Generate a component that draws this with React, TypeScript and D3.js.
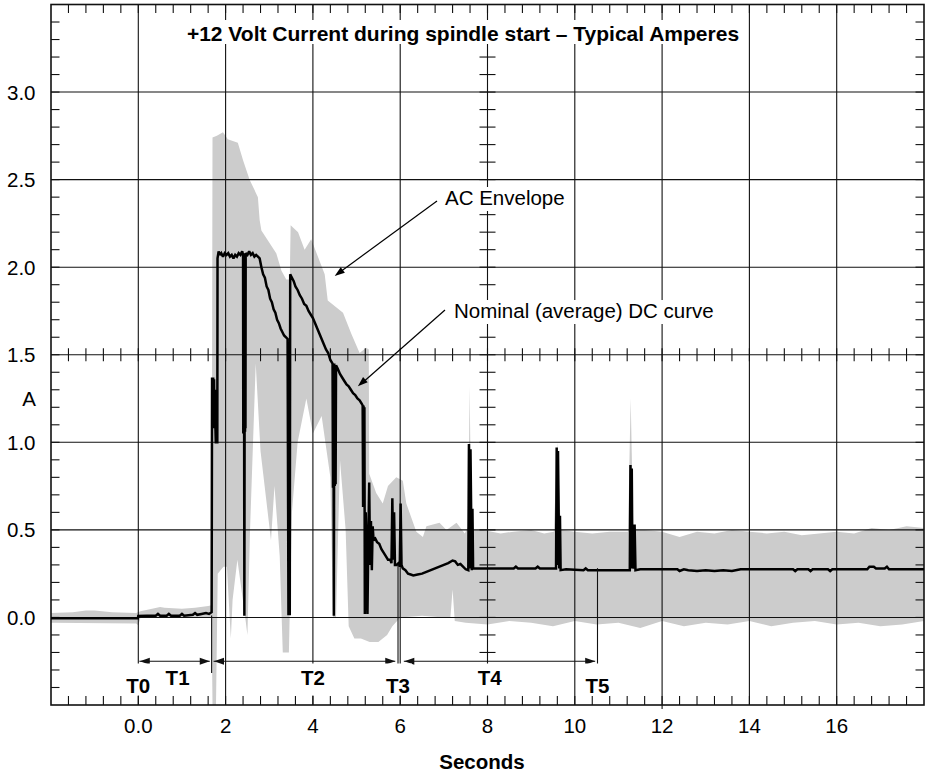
import React from 'react';
import * as d3 from 'd3';

const W = 926;
const H = 774;

// ---- Data ----
const dcT = [-2.0,-0.01,0.0,0.2,0.4,0.45,0.5,0.65,0.7,0.75,0.95,1.0,1.05,1.25,1.3,1.35,1.45,1.55,1.62,1.68,
1.69,1.705,1.715,1.725,1.735,1.745,1.755,1.765,1.775,1.81,1.815,1.84,1.87,1.9,1.94,1.98,2.02,2.06,2.1,2.14,2.18,2.22,2.26,2.3,2.34,2.38,2.40,
2.405,2.41,2.415,2.42,2.43,2.44,2.445,2.45,2.455,2.46,2.5,2.54,2.58,2.62,2.66,2.7,2.74,2.78,2.82,2.86,2.9,2.94,2.98,3.02,3.06,3.1,3.14,3.18,3.22,3.26,3.3,3.34,3.38,3.42,
3.44,3.47,3.48,3.52,3.56,3.6,3.65,3.7,3.75,3.8,3.85,3.9,3.95,4.0,4.05,4.1,4.15,4.2,4.25,4.3,4.35,4.4,4.45,
4.46,4.47,4.48,4.49,4.5,4.51,4.52,4.53,4.57,4.62,4.67,4.72,4.77,4.82,4.87,4.92,4.97,5.02,5.07,5.12,5.14,
5.15,5.16,5.17,5.18,5.19,5.21,5.23,5.25,5.27,5.29,5.31,5.33,5.35,5.37,5.39,5.43,5.47,5.52,5.57,5.62,5.67,5.72,5.77,5.80,
5.82,5.84,5.86,5.88,5.92,5.96,5.99,6.01,6.03,6.06,6.12,6.18,6.24,6.3,6.4,6.5,6.6,6.7,6.8,6.9,7.0,7.1,7.2,7.26,7.32,7.38,7.44,7.5,7.56,
7.575,7.595,7.61,7.625,7.64,7.655,7.67,7.7,8.6,8.65,8.7,9.1,9.15,9.2,9.57,9.585,9.6,9.615,9.63,9.645,9.66,9.675,9.8,10.2,10.25,10.3,10.7,
11.26,11.275,11.29,11.305,11.32,11.35,11.37,11.39,11.5,12.35,12.4,12.5,12.6,12.8,13.0,13.2,13.4,13.6,13.8,15.0,15.05,15.1,15.35,15.4,15.45,15.8,15.85,15.9,
16.7,16.75,16.85,16.9,17.1,17.15,17.2,18.0];
const dcA = [-0.005,-0.005,0.008,0.01,0.01,0.02,0.01,0.01,0.02,0.01,0.01,0.02,0.01,0.015,0.025,0.015,0.02,0.025,0.02,0.03,
1.37,1.10,1.37,1.08,1.36,1.09,1.30,1.10,1.00,1.00,2.05,2.09,2.07,2.08,2.06,2.08,2.07,2.08,2.06,2.07,2.05,2.07,2.06,2.08,2.07,2.09,2.07,
1.05,2.08,1.1,2.07,0.01,2.08,1.06,2.07,1.08,2.08,2.07,2.09,2.07,2.08,2.06,2.07,2.06,2.05,2.0,1.96,1.94,1.89,1.87,1.82,1.80,1.76,1.74,1.70,1.68,1.65,1.63,1.61,1.60,1.59,
0.02,0.02,1.96,1.94,1.92,1.89,1.87,1.84,1.82,1.79,1.78,1.75,1.73,1.71,1.68,1.65,1.62,1.59,1.56,1.53,1.51,1.47,1.45,
0.74,1.44,0.01,1.45,0.75,1.43,0.76,1.44,1.42,1.39,1.37,1.35,1.33,1.32,1.30,1.28,1.27,1.25,1.24,1.22,1.21,
0.63,1.21,0.64,1.20,0.02,0.60,0.40,0.02,0.45,0.77,0.30,0.55,0.27,0.52,0.44,0.45,0.43,0.42,0.39,0.37,0.35,0.33,0.33,0.31,
0.68,0.33,0.60,0.30,0.30,0.31,0.29,0.65,0.30,0.28,0.27,0.25,0.245,0.24,0.245,0.25,0.26,0.27,0.28,0.29,0.30,0.31,0.325,0.32,0.30,0.305,0.29,0.275,0.27,
0.99,0.28,0.96,0.62,0.27,0.62,0.28,0.28,0.28,0.29,0.28,0.28,0.29,0.28,0.28,0.97,0.30,0.95,0.60,0.28,0.58,0.27,0.275,0.27,0.28,0.27,0.27,
0.27,0.87,0.28,0.85,0.30,0.28,0.53,0.27,0.275,0.275,0.265,0.275,0.27,0.265,0.27,0.265,0.27,0.265,0.275,0.275,0.265,0.275,0.275,0.265,0.275,0.275,0.265,0.275,
0.275,0.29,0.29,0.28,0.28,0.29,0.275,0.275];

// AC envelope: upper boundary
const envHiT = [-2.0,-1.5,-1.2,-1.0,-0.6,-0.05,0.05,0.5,0.6,1.0,1.3,1.6,1.68,1.70,1.80,1.94,2.05,2.28,2.40,2.55,2.74,2.78,2.82,3.16,3.28,3.39,3.47,
3.49,3.66,3.81,3.96,4.27,4.34,4.69,4.88,5.07,5.22,5.28,5.29,5.45,5.60,5.72,5.91,6.06,6.14,6.37,6.52,6.60,6.90,7.06,7.29,7.48,7.56,7.59,7.63,
7.9,8.3,8.6,9.0,9.3,9.52,9.6,9.68,10.0,10.4,10.8,11.22,11.28,11.34,11.6,12.0,12.4,12.8,13.2,13.6,14.0,14.4,14.8,15.2,15.6,16.0,16.4,16.8,17.2,17.6,18.0];
const envHi = [0.025,0.03,0.04,0.04,0.03,0.025,0.035,0.06,0.055,0.05,0.055,0.065,0.07,2.74,2.75,2.77,2.73,2.71,2.61,2.50,2.40,2.27,2.21,2.08,1.98,1.93,1.93,
2.24,2.20,2.10,2.16,1.96,1.81,1.74,1.62,1.51,1.54,1.53,0.82,0.71,0.65,0.75,0.80,0.78,0.65,0.49,0.46,0.52,0.54,0.50,0.54,0.48,0.52,1.32,0.50,
0.50,0.48,0.49,0.50,0.48,0.49,1.0,0.50,0.49,0.48,0.49,0.49,1.25,0.50,0.50,0.49,0.46,0.49,0.48,0.50,0.49,0.48,0.49,0.47,0.48,0.49,0.48,0.51,0.50,0.52,0.51];

// AC envelope: lower boundary
const envLoT = [-2.0,-0.05,0.0,0.05,1.68,1.70,1.78,1.82,1.95,2.03,2.12,2.16,2.27,2.45,2.50,2.56,2.69,2.80,3.04,3.12,3.24,3.31,3.45,
3.52,3.65,3.85,4.0,4.2,4.40,4.46,4.53,4.62,4.75,4.82,4.95,5.1,5.3,5.5,5.7,5.82,6.0,6.5,7.0,7.15,7.2,7.25,7.5,8.0,8.5,9.0,9.5,10.0,10.5,11.0,11.5,12.0,
12.5,13.0,13.5,14.0,14.5,15.0,15.5,16.0,16.5,17.0,17.5,18.0];
const envLo = [-0.03,-0.035,-0.045,0.0,0.0,-0.5,-0.5,0.25,0.29,0.29,-0.12,0.10,0.33,0.0,-0.10,0.5,1.45,0.95,0.44,0.75,0.35,-0.20,-0.20,
0.6,1.0,1.25,1.05,1.15,0.8,0.0,0.0,0.9,0.5,-0.05,-0.12,-0.12,-0.14,-0.14,-0.10,-0.05,0.0,0.01,0.0,0.0,0.16,-0.02,-0.03,-0.04,-0.02,-0.03,-0.05,-0.02,-0.04,-0.03,-0.06,-0.02,
-0.05,-0.03,-0.04,-0.02,-0.05,-0.03,-0.02,-0.04,-0.03,-0.05,-0.04,-0.02];

const xMajor = [0, 2, 4, 6, 8, 10, 12, 14, 16];
const xMajorLabels = ['0.0', '2', '4', '6', '8', '10', '12', '14', '16'];
const yMajor = [0, 0.5, 1.0, 1.5, 2.0, 2.5, 3.0];
const yMajorLabels = ['0.0', '0.5', '1.0', '1.5', '2.0', '2.5', '3.0'];

// Phase markers
const phaseNames = ['T0', 'T1', 'T2', 'T3', 'T4', 'T5'];
const phaseLabelT = [0, 0.9, 4.0, 5.95, 8.05, 10.52];
const phaseLow = [true, false, false, true, false, true];
const markerT = [1.68, 5.95, 10.52];
const markerTopA = [0.0, 0.29, 0.27];
const spanStart = [0, 1.7, 6.06];
const spanEnd = [1.66, 5.91, 10.49];

const title = '+12 Volt Current during spindle start \u2013 Typical Amperes';

const FONT = '"Liberation Sans", Arial, Helvetica, sans-serif';

export default function App() {
  const x = d3.scaleLinear().domain([-2, 18]).range([51, 924]);
  const y = d3.scaleLinear().domain([-0.5, 3.5]).range([705, 4.5]);
  const X0 = x(-2), X1 = x(18), Y0 = y(-0.5), Y1 = y(3.5);

  const xMinor = d3.range(-1.6, 17.99, 0.4);
  const yMinor = d3.range(-0.4, 3.45, 0.1);

  const hiPts: [number, number][] = envHiT.map((t, i) => [x(t), y(envHi[i])]);
  const loPts: [number, number][] = envLoT.map((t, i) => [x(t), y(envLo[i])]).reverse() as [number, number][];
  const envPath = d3.line()([...hiPts, ...loPts]) + 'Z';

  const dcPath = d3.line<number>().x((t) => x(t)).y((_, i) => y(dcA[i]))(dcT);

  const axisX8 = x(8);
  const axisY15 = y(1.5);
  const dimY = 661.3;

  const arrowHead = (tipX: number, tipY: number, dirX: number, dirY: number, len = 10, hw = 3.5) => {
    const n = Math.hypot(dirX, dirY);
    const ux = dirX / n, uy = dirY / n;
    const bx = tipX - ux * len, by = tipY - uy * len;
    return `M${tipX},${tipY}L${bx - uy * hw},${by + ux * hw}L${bx + uy * hw},${by - ux * hw}Z`;
  };

  const labelW = (s: string) => s.length * 12;

  return (
    <svg width={W} height={H} style={{ position: 'absolute', left: 0, top: 0, background: '#fff' }} fontFamily={FONT}>
      <rect x={0} y={0} width={W} height={H} fill="#fff" />
      {/* envelope */}
      <path d={envPath} fill="#cccccc" stroke="none" />

      {/* grid lines */}
      <g stroke="#111" strokeWidth={1.1}>
        {xMajor.map((t) => (
          <line key={'gx' + t} x1={x(t)} x2={x(t)} y1={Y1} y2={t === 12 ? Y0 + 4 : Y0} />
        ))}
        {yMajor.map((v) => (
          <line key={'gy' + v} x1={X0} x2={X1} y1={y(v)} y2={y(v)} />
        ))}
      </g>

      {/* border ticks and cross-axis ticks */}
      <g stroke="#111" strokeWidth={1.1}>
        {xMinor.map((t, i) => (
          <g key={'tx' + i}>
            <line x1={x(t)} x2={x(t)} y1={Y1} y2={Y1 + 8.5} />
            <line x1={x(t)} x2={x(t)} y1={Y0} y2={Y0 - 9} />
            <line x1={x(t)} x2={x(t)} y1={axisY15 - 6.5} y2={axisY15 + 6.5} />
          </g>
        ))}
        {yMinor.map((v, i) => (
          <g key={'ty' + i}>
            <line x1={X0} x2={X0 + 8.5} y1={y(v)} y2={y(v)} />
            <line x1={X1} x2={X1 - 8.5} y1={y(v)} y2={y(v)} />
            <line x1={axisX8 - 8} x2={axisX8 + 8} y1={y(v)} y2={y(v)} />
          </g>
        ))}
      </g>

      {/* frame */}
      <rect x={X0} y={Y1} width={X1 - X0} height={Y0 - Y1} fill="none" stroke="#111" strokeWidth={1.6} />

      {/* DC curve */}
      <path d={dcPath || ''} fill="none" stroke="#000" strokeWidth={2.5} strokeLinejoin="miter" strokeMiterlimit={2} />

      {/* title */}
      <rect x={182} y={20} width={562} height={24} fill="#fff" />
      <text x={463} y={40.5} textAnchor="middle" fontSize={21} fontWeight="bold" fill="#000">{title}</text>

      {/* y tick labels */}
      <g fontSize={20.5} fill="#000" textAnchor="end">
        {yMajor.map((v, i) => (
          <text key={'yl' + v} x={35.5} y={y(v) + 7.5}>{yMajorLabels[i]}</text>
        ))}
        <text x={36} y={y(1.25) + 7.5}>A</text>
      </g>

      {/* x tick labels */}
      <g fontSize={20.5} fill="#000" textAnchor="middle">
        {xMajor.map((t, i) => (
          <text key={'xl' + t} x={x(t)} y={733}>{xMajorLabels[i]}</text>
        ))}
      </g>
      <text x={482} y={769} textAnchor="middle" fontSize={20.5} fontWeight="bold">Seconds</text>

      {/* annotations */}
      <rect x={442} y={187} width={130} height={24} fill="#fff" />
      <text x={445} y={204.5} fontSize={20.5}>AC Envelope</text>
      <line x1={437} y1={201} x2={x(4.5) + 4} y2={y(1.95) - 3} stroke="#000" strokeWidth={1.2} />
      <path d={arrowHead(x(4.5), y(1.95), x(4.5) - 437, y(1.95) - 201)} fill="#000" />

      <rect x={451} y={300} width={275} height={24} fill="#fff" />
      <text x={454} y={318} fontSize={20.5}>Nominal (average) DC curve</text>
      <line x1={445} y1={310} x2={x(5.03) + 4} y2={y(1.32) - 3} stroke="#000" strokeWidth={1.2} />
      <path d={arrowHead(x(5.03), y(1.32), x(5.03) - 445, y(1.32) - 310)} fill="#000" />

      {/* phase markers */}
      <g stroke="#111" strokeWidth={1.1}>
        {markerT.map((t, i) => (
          <line key={'mk' + i} x1={x(t)} x2={x(t)} y1={y(markerTopA[i]) - 2} y2={673} />
        ))}
        {spanStart.map((s, i) => (
          <line key={'sp' + i} x1={x(s) + 1} x2={x(spanEnd[i]) - 1} y1={dimY} y2={dimY} />
        ))}
      </g>
      <g fill="#111">
        {spanStart.map((s, i) => (
          <g key={'ah' + i}>
            <path d={arrowHead(x(s) + 1.5, dimY, -1, 0, 10, 3.5)} />
            <path d={arrowHead(x(spanEnd[i]) - 1, dimY, 1, 0, 10, 3.5)} />
          </g>
        ))}
      </g>
      <g fontSize={20.5} fontWeight="bold" textAnchor="middle">
        {phaseNames.map((n, i) => {
          const cx = x(phaseLabelT[i]);
          const base = phaseLow[i] ? 693 : 685;
          const w = labelW(n);
          return (
            <g key={n}>
              <rect x={cx - w / 2 - 2} y={663.5} width={w + 4} height={32} fill="#fff" />
              <text x={cx} y={base}>{n}</text>
            </g>
          );
        })}
      </g>
    </svg>
  );
}
